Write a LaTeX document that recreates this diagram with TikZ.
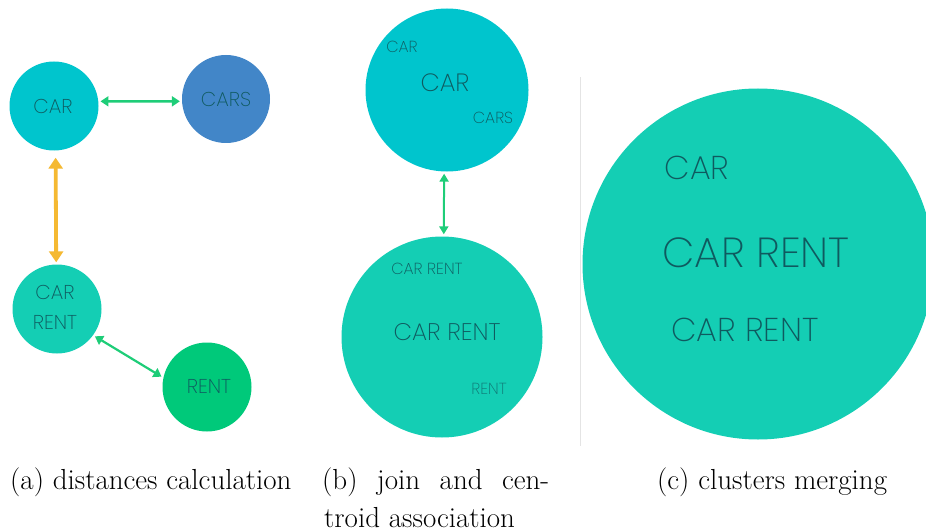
\documentclass[tikz,border=0pt]{standalone}
\usepackage{fontspec}
\usetikzlibrary{arrows.meta}
\newfontfamily\thinsans{Poppins}[UprightFont=* ExtraLight]
\definecolor{cyanc}{RGB}{0,197,205}
\definecolor{bluec}{RGB}{66,134,200}
\definecolor{tealc}{RGB}{20,206,180}
\definecolor{greenc}{RGB}{0,201,122}
\definecolor{arrgreen}{RGB}{30,205,120}
\definecolor{arrorange}{RGB}{245,185,50}
\definecolor{inktext}{RGB}{15,90,95}
\definecolor{sepgray}{RGB}{228,228,228}
\tikzset{
  blob/.style={circle, inner sep=0pt, draw=none},
  word/.style={inner sep=0pt, text=inktext, font=\thinsans\fontsize{#1}{#1}\selectfont},
  link/.style={line width=2.6pt, {Triangle[length=8pt,width=10pt]}-{Triangle[length=8pt,width=10pt]}, shorten <=2pt, shorten >=2pt},
  caption/.style={inner sep=0pt, anchor=base west, font=\fontsize{29}{34}\selectfont}
}
\begin{document}
\begin{tikzpicture}[x=1pt, y=-1pt]
\useasboundingbox (0,0) rectangle (926,532);
\begin{scope}
\clip (0,0) rectangle (926,532);

% (a) distances between single clusters
\node[blob, fill=cyanc, minimum size=89pt] (car) at (54,106) {};
\node[blob, fill=bluec, minimum size=88pt] (cars) at (226,99) {};
\node[blob, fill=tealc, minimum size=89pt] (carrent) at (57,309) {};
\node[blob, fill=greenc, minimum size=89pt] (rent) at (207,387) {};
\node[word=20] (tcar) at (53,106) {CAR};
\node[word=20] (tcars) at (226,99) {CARS};
\node[word=20] (tcr1) at (55,292) {CAR};
\node[word=20] (tcr2) at (55,322) {RENT};
\node[word=20] (trent) at (209,386) {RENT};

\draw[link, arrgreen] (car.6.5) -- (cars.-177.4);
\draw[link, arrorange, line width=3.8pt, {Triangle[length=11pt,width=14pt]}-{Triangle[length=11pt,width=14pt]}, shorten <=7pt] (car.-88) -- (carrent.91);
\draw[link, arrgreen, line width=2.2pt] (carrent.-36) -- (rent.168);

% (b) joined cluster and its centroid
\node[blob, fill=cyanc, minimum size=163pt] (btop) at (447,90) {};
\node[blob, fill=tealc, minimum size=201pt] (bbot) at (442,337) {};
\node[word=16] (b1) at (402,47) {CAR};
\node[word=25] (b2) at (445,83) {CAR};
\node[word=16] (b3) at (493,118) {CARS};
\node[word=16] (b4) at (427,269) {CAR RENT};
\node[word=24] (b5) at (447,332) {CAR RENT};
\node[word=16, opacity=0.75] (b6) at (489,389) {RENT};
\draw[link, arrgreen, line width=2pt, {Triangle[length=8pt,width=9pt]}-{Triangle[length=8pt,width=9pt]}] (btop.-92.5) -- (bbot.89);

% separator
\coordinate (s1) at (580,77);
\coordinate (s2) at (580,446);
\draw[sepgray, line width=1pt] (s1) -- (s2);

% (c) merged cluster
\node[blob, fill=tealc, minimum size=351pt] (cbig) at (758,264) {};
\node[word=33] (c1) at (697,168) {CAR};
\node[word=42] (c2) at (756,253) {CAR RENT};
\node[word=33] (c3) at (745,330) {CAR RENT};
\end{scope}

% sub-captions
\node[caption] (capa) at (10,489) {(a) distances calculation};
\node[caption] (capb) at (322,489) {\makebox[227pt][s]{(b) join and cen-}};
\node[caption] (capb2) at (324,527) {troid association};
\node[caption] (capc) at (657,489) {(c) clusters merging};
\end{tikzpicture}
\end{document}
